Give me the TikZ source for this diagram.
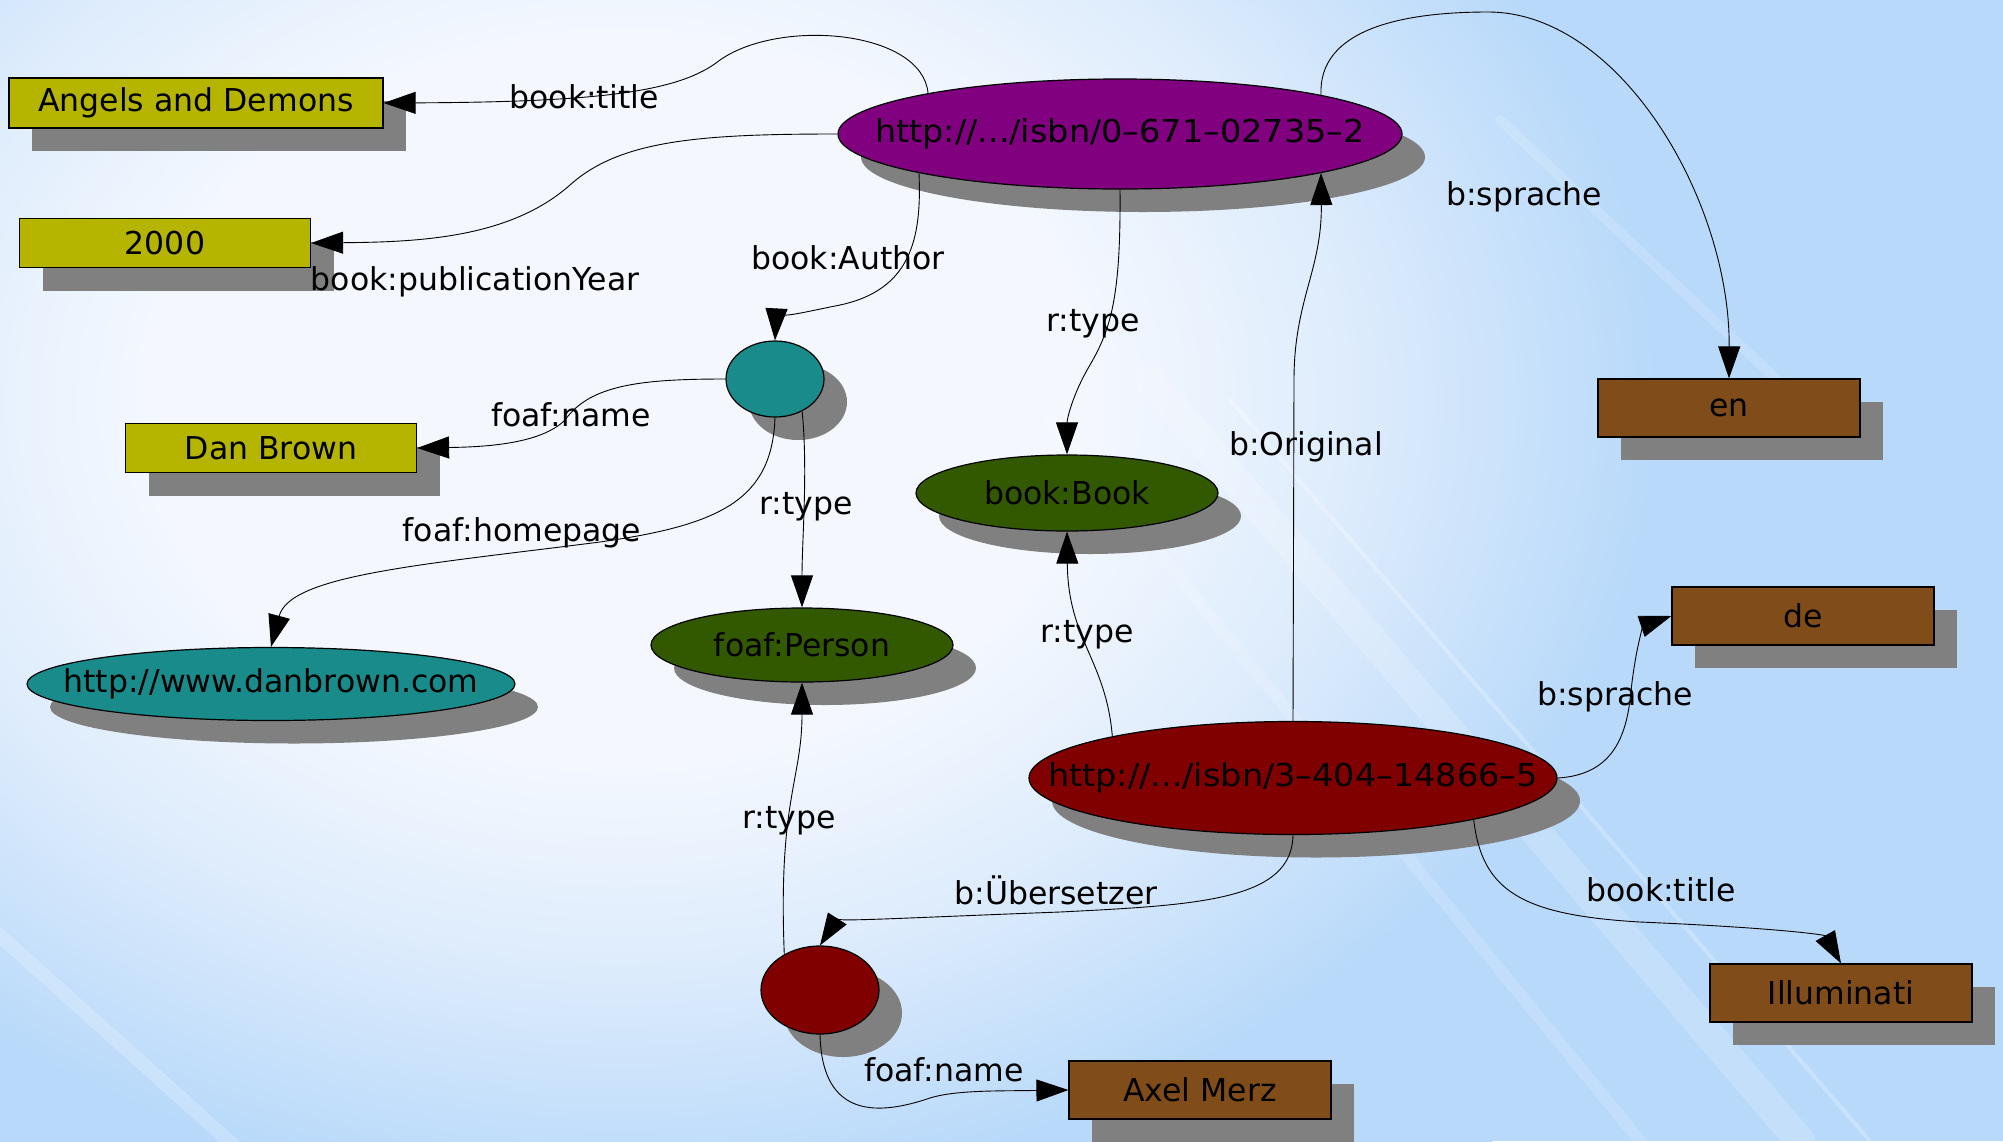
\documentclass[tikz,border=0pt]{standalone}
\usepackage{fontspec}
\setmainfont{DejaVu Sans}
\usetikzlibrary{shapes.geometric,shadows,arrows.meta}

\definecolor{literalolive}{RGB}{181,181,0}
\definecolor{literalbrown}{RGB}{128,77,26}
\definecolor{bookpurple}{RGB}{128,0,128}
\definecolor{bookred}{RGB}{128,0,0}
\definecolor{personteal}{RGB}{26,139,139}
\definecolor{classgreen}{RGB}{51,89,0}
\definecolor{shadowgray}{RGB}{128,128,128}
\definecolor{skyblue}{RGB}{184,217,250}
\definecolor{skywhite}{RGB}{244,248,254}
\definecolor{skylight}{RGB}{222,236,252}

\pgfdeclareradialshading{skyglow}{\pgfpoint{0bp}{0bp}}{color(0bp)=(skywhite); color(9bp)=(skywhite); color(14bp)=(skylight); color(20bp)=(skyblue); color(50bp)=(skyblue)}

\newcommand{\nowidth}[1]{\makebox[0pt]{#1}}
\newcommand{\uritext}[1]{\makebox[0pt]{\resizebox{490pt}{\height}{#1}}}

\begin{document}
\begin{tikzpicture}[x=1pt,y=-1pt,
    every node/.style={font=\fontsize{31.5}{38}\selectfont},
    shadowed/.style={drop shadow={shadow xshift=23pt,shadow yshift=-23pt,fill=shadowgray,opacity=1}},
    literal/.style={rectangle,draw=black,line width=1.2pt,inner sep=0pt,shadowed},
    resource/.style={ellipse,draw=black,line width=1.2pt,inner sep=0pt,shadowed},
    property/.style={line width=0.9pt,-{Triangle[length=32pt,width=22pt]}},
    streak/.style={white,line cap=round},
    lbl/.style={inner sep=0pt}]
    \useasboundingbox (0,0) rectangle (2003,1141);
    \fill[skyblue] (0,0) rectangle (2003,1141);
    \begin{scope}
        \clip (0,0) rectangle (2003,1141);
        \shade[shading=skyglow] (620,400) ellipse [x radius=1300, y radius=1000];
        \draw[streak,opacity=0.18,line width=30pt] (1150,380) -- (1800,1141);
        \draw[streak,opacity=0.25,line width=4pt] (1230,400) -- (1870,1141);
        \draw[streak,opacity=0.15,line width=12pt] (1050,420) -- (1640,1141);
        \draw[streak,opacity=0.2,line width=14pt] (-40,900) -- (250,1160);
        \draw[streak,opacity=0.15,line width=10pt] (1500,120) -- (1820,420);
    \end{scope}

    \node[literal,fill=literalolive,minimum width=374pt,minimum height=50pt] (title) at (196,103) {Angels and Demons};
    \node[literal,fill=literalolive,minimum width=291pt,minimum height=49pt] (year) at (165,243) {2000};
    \node[literal,fill=literalolive,minimum width=291pt,minimum height=49pt] (name) at (271,448) {Dan Brown};
    \node[literal,fill=literalbrown,minimum width=262pt,minimum height=58pt] (langEn) at (1729,408) {en};
    \node[literal,fill=literalbrown,minimum width=262pt,minimum height=58pt] (langDe) at (1803,616) {de};
    \node[literal,fill=literalbrown,minimum width=262pt,minimum height=58pt] (titleDe) at (1841,993) {Illuminati};
    \node[literal,fill=literalbrown,minimum width=262pt,minimum height=58pt] (transName) at (1200,1090) {Axel Merz};

    \node[resource,fill=bookpurple,minimum width=564pt,minimum height=110pt] (isbnEn) at (1120,134) {\uritext{http://.../isbn/0–671–02735–2}};
    \node[resource,fill=personteal,minimum width=98pt,minimum height=76pt] (author) at (775,379) {};
    \node[resource,fill=personteal,minimum width=488pt,minimum height=73pt] (homepage) at (271,684) {\nowidth{http://www.danbrown.com}};
    \node[resource,fill=classgreen,minimum width=302pt,minimum height=74pt] (person) at (802,645) {\nowidth{foaf:Person}};
    \node[resource,fill=classgreen,minimum width=302pt,minimum height=76pt] (book) at (1067,493) {\nowidth{book:Book}};
    \node[resource,fill=bookred,minimum width=528pt,minimum height=113pt] (isbnDe) at (1293,778) {\uritext{http://.../isbn/3–404–14866–5}};
    \node[resource,fill=bookred,minimum width=118pt,minimum height=88pt] (translator) at (820,990) {};

    \draw[property] (isbnEn.168.5) .. controls (922,30) and (780,18) .. (720,60) .. controls (680,92) and (600,102) .. (title.east);
    \draw[property] (isbnEn.west) .. controls (700,134) and (620,140) .. (570,185) .. controls (510,238) and (420,242) .. (year.east);
    \draw[property] (isbnEn.191.5) .. controls (922,240) and (910,290) .. (840,305) .. controls (790,315) and (776,320) .. (author.north);
    \draw[property] (isbnEn.south) .. controls (1121,300) and (1110,330) .. (1090,365) .. controls (1072,395) and (1067,420) .. (book.north);
    \draw[property] (isbnEn.11) .. controls (1318,30) and (1400,12) .. (1488,12) .. controls (1620,12) and (1730,200) .. (langEn.north);
    \draw[property] (isbnDe.north) -- (1294,380) .. controls (1294,300) and (1322,270) .. (isbnEn.-11);
    \draw[property] (isbnDe.167) .. controls (1106,660) and (1068,640) .. (book.south);
    \draw[property] (isbnDe.east) .. controls (1610,775) and (1625,740) .. (1630,700) .. controls (1636,640) and (1645,625) .. (langDe.west);
    \draw[property] (isbnDe.-13) .. controls (1482,890) and (1520,915) .. (1640,922) .. controls (1780,928) and (1825,935) .. (titleDe.north);
    \draw[property] (isbnDe.south) .. controls (1292,900) and (1200,905) .. (1060,912) .. controls (900,918) and (835,922) .. (translator.north);
    \draw[property] (translator.135) .. controls (778,800) and (802,780) .. (person.south);
    \draw[property] (author.-50) .. controls (808,470) and (802,540) .. (person.north);
    \draw[property] (author.west) .. controls (640,379) and (590,385) .. (565,420) .. controls (540,445) and (480,447) .. (name.east);
    \draw[property] (author.south) .. controls (772,500) and (720,525) .. (600,542) .. controls (420,565) and (290,575) .. (homepage.north);
    \draw[property] (translator.south) .. controls (822,1120) and (880,1115) .. (930,1098) .. controls (955,1090) and (1000,1091) .. (transName.west);

    \node[lbl] (lTitleEn) at (584,97) {book:title};
    \node[lbl] (lYear) at (475,282) {book:publicationYear};
    \node[lbl] (lAuthor) at (848,258) {book:Author};
    \node[lbl] (lTypeEn) at (1093,324) {r:type};
    \node[lbl] (lLangEn) at (1524,197) {b:sprache};
    \node[lbl] (lName) at (571,415) {foaf:name};
    \node[lbl] (lTypeAuthor) at (806,507) {r:type};
    \node[lbl] (lHome) at (522,533) {foaf:homepage};
    \node[lbl] (lOriginal) at (1306,447) {b:Original};
    \node[lbl] (lTypeDe) at (1087,635) {r:type};
    \node[lbl] (lLangDe) at (1615,697) {b:sprache};
    \node[lbl] (lTypeTrans) at (789,821) {r:type};
    \node[lbl] (lTrans) at (1056,890) {b:Übersetzer};
    \node[lbl] (lTitleDe) at (1661,890) {book:title};
    \node[lbl] (lTransName) at (944,1070) {foaf:name};
\end{tikzpicture}
\end{document}
